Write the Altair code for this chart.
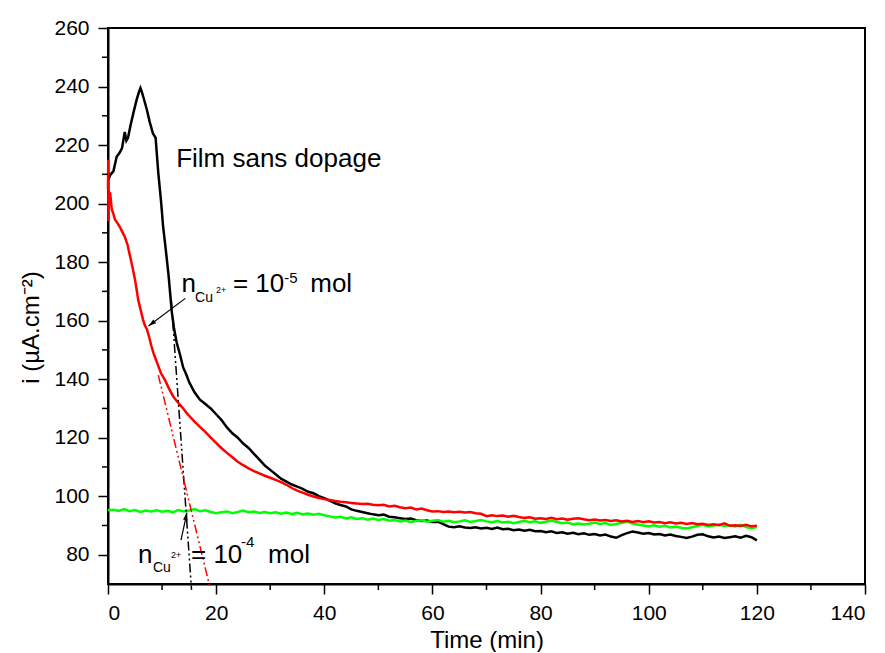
import altair as alt
import pandas as pd

FONT = "Liberation Sans"

# ---- data ----
black_t = [0, 0.5, 1, 1.6, 2.2, 2.6, 3.1, 3.4, 3.7, 4.2, 4.7, 5.3, 5.7, 6.0, 6.2, 6.6, 7.2, 7.7, 8.3, 8.8,
           9.3, 9.8, 10.2, 10.7, 11.2, 11.8, 12.2, 12.7, 13.3, 13.9, 14.5] + list(range(15, 121))
black_v = [208, 210, 211, 216, 217.5, 219, 224.5, 221.5, 222.5, 227, 231, 235.5, 238, 239.5, 238.5, 236, 232, 228, 224, 222.5,
           210.5, 201, 192, 184, 175.5, 163, 157.5, 152.5, 148.5, 144, 141.5,
           139, 135.5, 133, 131.5, 130, 128, 126, 123.5, 121.5, 120, 118, 116.5, 114.5, 112.5, 110.5,
           109, 107.5, 106, 105, 104, 103.3, 102.5, 101.5, 101, 100, 99.3, 98.5, 97.6, 97, 96.5,
           95.5, 95, 94.6, 94.2, 93.8, 93.5, 93.7, 93, 92.8, 92.5, 92.2, 92.4, 91.8, 91.5, 91.7,
           91.2, 91.3, 90.5, 89.6, 89.4, 89.7, 89.3, 89.1, 89.4, 89, 89.2, 88.8, 89.3, 88.7, 88.9,
           88.4, 88.6, 88.2, 88.5, 88, 88.1, 87.7, 88, 87.4, 87.7, 87.2, 87.5, 87, 87.3, 86.8,
           87.1, 86.6, 86.9, 86.2, 85.8, 86.7, 87.4, 87.9, 87.6, 87.2, 87.4, 86.9, 87.1, 86.6, 86.9,
           86.4, 86.1, 85.7, 86.2, 86.8, 87, 86.3, 85.9, 86.2, 85.7, 86, 86.3, 85.8, 86.5, 86, 84.9]

red_t = [0, 0.05, 0.1, 0.15, 0.4, 0.7, 1.0, 1.3, 1.7, 2.2, 2.6, 3.1, 3.6, 4.1, 4.5, 5.0, 5.3, 5.6, 6.0, 6.5,
         6.8, 7.2, 7.6, 8.0, 8.4, 8.7, 9.1, 9.5, 9.8, 10.2, 10.6, 10.9, 11.4, 12.1, 12.6, 13.1, 13.6, 14.0,
         14.6] + list(range(15, 121))
red_v = [205, 215, 194, 204, 203.5, 198, 196.5, 194.5, 193.5, 192, 190.5, 188.7, 186, 181.8, 178.5, 174, 170.5, 167, 164, 160.2,
         158.5, 157, 154.5, 151.5, 149, 147.5, 145.5, 143.5, 142, 140.8, 139.5, 138.3, 136.3, 134, 132.8, 131.7, 130.6, 129.8,
         128.3,
         127.5, 125.5, 123.7, 122, 120, 118.2, 116.4, 114.8, 113.3, 111.8, 110.6, 109.5, 108.6, 107.8, 107,
         106.3, 105.6, 104.8, 103.9, 102.8, 101.9, 101.2, 100.5, 99.9, 99.4, 99, 98.7, 98.4, 98.1, 97.9,
         97.7, 97.5, 97.3, 97.4, 97.1, 96.9, 97.1, 96.5, 96.7, 96.2, 95.9, 96.1, 95.5, 95.8, 95.2,
         94.8, 94.9, 94.6, 94.8, 94.5, 94.7, 94.4, 94.6, 94.2, 94, 93.2, 93.5, 93.2, 93.4, 93,
         93.3, 92.9, 92.6, 92.8, 92.3, 92.5, 92.2, 92.6, 92.1, 92.4, 92, 92.3, 92.5, 92.1, 91.8,
         92, 91.7, 91.9, 91.5, 91.8, 91.4, 91.6, 91.2, 91.5, 91.1, 91.4, 91, 91.2, 90.8, 91.1,
         90.7, 90.9, 90.5, 90.8, 90.4, 90.6, 90.2, 90.4, 90.1, 90.7, 89.9, 90.1, 89.8, 90.2, 89.7, 89.9]

green_t = list(range(0, 121))
green_v = [95.2, 95.4, 95, 95.6, 94.9, 95.3, 94.6, 95.1, 94.8, 95.2, 94.7, 95, 94.5, 95.3, 94.8, 95.1, 95.6, 94.9, 95.2, 94.6,
           94.2, 94.5, 94.8, 94.2, 94.6, 95.1, 94.5, 94.8, 94.3, 94.6, 94.2, 94.5, 94, 94.4, 93.9, 94.3, 93.8, 94.1, 93.7, 94,
           93.5, 93.1, 92.7, 93, 92.4, 92.8, 92.2, 92.5, 92, 92.4, 91.9, 92.2, 91.6, 91.9, 91.4, 91.7, 91.2, 91.5, 91.8, 91.3,
           91.6, 91.9, 91.3, 91.6, 91.1, 91.4, 91.8, 91.2, 91.5, 91.9, 91.4, 91.1, 91.5, 91, 91.3, 90.8, 91.2, 91.6, 91.1, 91.4,
           90.9, 91.3, 91.7, 91.2, 90.8, 91, 90.4, 90.7, 90.3, 90.6, 91, 90.5, 90.8, 90.2, 90.5, 90.9, 91.3, 90.7, 90.3, 90,
           89.7, 90.1, 89.6, 89.9, 89.3, 89.6, 89.2, 89, 89.4, 89.8, 90.2, 89.7, 90, 90.3, 89.8, 90.1, 89.7, 90.2, 89.5, 89.1,
           89.5]

# tangent lines (start, end)
tan_black_t = [11.7, 15.45]
tan_black_v = [167, 68]
tan_red_t = [9.3, 18.9]
tan_red_v = [141.4, 68.5]

# arrows: start -> tip
arrow_t0 = [14.3, 13.5]
arrow_v0 = [167.6, 85.0]
arrow_t1 = [7.5, 14.6]
arrow_v1 = [158.2, 94.4]
arrow_angle = [234, 12]

# axis ticks
x_major = [0, 20, 40, 60, 80, 100, 120, 140]
x_minor = [10, 30, 50, 70, 90, 110, 130]
y_major = [80, 100, 120, 140, 160, 180, 200, 220, 240, 260]
y_minor = [90, 110, 130, 150, 170, 190, 210, 230, 250]

# annotation text pieces
ann_text = ["Film sans dopage",
            "n", "Cu", "2+", "= 10", "-5", "mol",
            "n", "Cu", "2+", "= 10", "-4", "mol"]
ann_t = [12.6,
         13.6, 16.1, 19.97, 23.1, 32.6, 37.4,
         5.55, 8.3, 11.65, 15.35, 24.6, 29.6]
ann_v = [212.4,
         169.8, 166.4, 169.3, 169.8, 172.8, 169.8,
         77.2, 74.1, 78.9, 77.2, 82.6, 77.2]
ann_size = [26,
            26, 14, 9, 26, 15, 26,
            26, 14, 9, 26, 15, 26]


def series_df(t, v):
    return pd.DataFrame({"t": t, "v": v, "i": range(len(t))})


x_scale = alt.Scale(domain=[0, 140], nice=False, zero=False)
y_scale = alt.Scale(domain=[70, 260], nice=False, zero=False)

x_axis = alt.Axis(
    values=x_major, tickSize=10, labelPadding=8,
    title="Time (min)", titleY=63, titleBaseline="alphabetic",
)
y_axis = alt.Axis(
    values=y_major, tickSize=10, labelPadding=9,
    title="i (µA.cm⁻²)",
    titleX=-70, titleY=299, titleBaseline="alphabetic", titleAlign="center", titleAngle=-90,
)

X = alt.X("t:Q", scale=x_scale, axis=x_axis)
Y = alt.Y("v:Q", scale=y_scale, axis=y_axis)
Xn = alt.X("t:Q", scale=x_scale)
Yn = alt.Y("v:Q", scale=y_scale)

LW = 2.5
black = alt.Chart(series_df(black_t, black_v)).mark_line(color="black", strokeWidth=LW).encode(
    x=X, y=Y, order="i:Q")
green = alt.Chart(series_df(green_t, green_v)).mark_line(color="#00ff00", strokeWidth=LW).encode(
    x=Xn, y=Yn, order="i:Q")
red = alt.Chart(series_df(red_t, red_v)).mark_line(color="#ff0000", strokeWidth=LW).encode(
    x=Xn, y=Yn, order="i:Q")

dash = [9, 3, 2, 3, 2, 3]
tan_b = alt.Chart(series_df(tan_black_t, tan_black_v)).mark_line(
    color="black", strokeWidth=1.5, strokeDash=dash).encode(x=Xn, y=Yn, order="i:Q")
tan_r = alt.Chart(series_df(tan_red_t, tan_red_v)).mark_line(
    color="#ff0000", strokeWidth=1.5, strokeDash=dash).encode(x=Xn, y=Yn, order="i:Q")

arr_df = pd.DataFrame({"t0": arrow_t0, "v0": arrow_v0, "t1": arrow_t1, "v1": arrow_v1, "a": arrow_angle})
arr_line = alt.Chart(arr_df).mark_rule(color="black", strokeWidth=1.2).encode(
    x=alt.X("t0:Q", scale=x_scale), y=alt.Y("v0:Q", scale=y_scale),
    x2="t1:Q", y2="v1:Q")
arr_head = alt.Chart(arr_df).mark_point(
    shape="M0,0 L-0.5,1.6 L0.5,1.6 Z", filled=True, color="black", size=90, opacity=1).encode(
    x=alt.X("t1:Q", scale=x_scale), y=alt.Y("v1:Q", scale=y_scale),
    angle=alt.Angle("a:Q", scale=None))

# minor ticks, outward from the axes
xm = alt.Chart(pd.DataFrame({"m": x_minor})).mark_tick(
    orient="vertical", size=6, thickness=1.5, color="black", yOffset=3, opacity=1).encode(
    x=alt.X("m:Q", scale=x_scale), y=alt.datum(70))
ym = alt.Chart(pd.DataFrame({"m": y_minor})).mark_tick(
    orient="horizontal", size=6, thickness=1.5, color="black", xOffset=-3, opacity=1).encode(
    y=alt.Y("m:Q", scale=y_scale), x=alt.datum(0))

ann_df = pd.DataFrame({"t": ann_t, "v": ann_v, "text": ann_text, "s": ann_size})
ann = alt.Chart(ann_df).mark_text(align="left", baseline="alphabetic", font=FONT, color="black").encode(
    x=Xn, y=Yn, text="text:N", size=alt.Size("s:Q", scale=None))

chart = alt.layer(black, green, red, tan_b, tan_r, arr_line, arr_head, xm, ym, ann).properties(
    width=757, height=556,
    autosize=alt.AutoSizeParams(type="none"),
    padding={"left": 100, "top": 20, "right": 12, "bottom": 68},
).configure_view(
    stroke="black", strokeWidth=2
).configure_axis(
    grid=False, domainColor="black", domainWidth=2, tickColor="black", tickWidth=1.5,
    labelFont=FONT, labelFontSize=21, labelColor="black",
    titleFont=FONT, titleFontSize=24, titleFontWeight="normal", titleColor="black",
)

chart.save("out.html", embed_options={"renderer": "svg", "actions": False})
